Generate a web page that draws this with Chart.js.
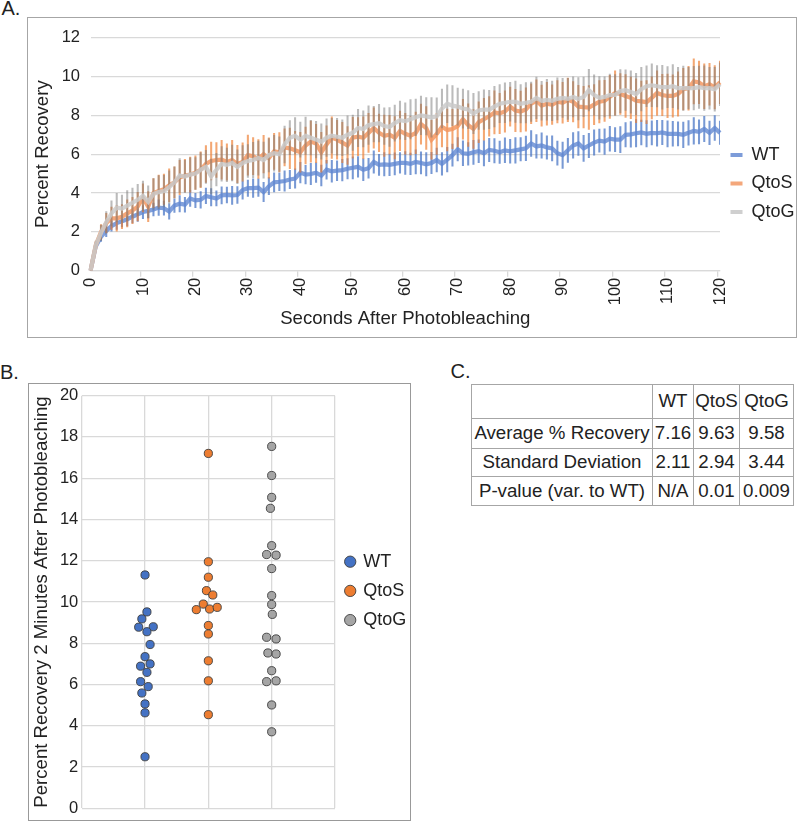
<!DOCTYPE html>
<html>
<head>
<meta charset="utf-8">
<script src="https://cdn.jsdelivr.net/npm/chart.js@4.4.1/dist/chart.umd.min.js"></script>
<style>
html,body{margin:0;padding:0;background:#fff;}
body{width:797px;height:821px;position:relative;overflow:hidden;font-family:"Liberation Sans",Arial,sans-serif;color:#222;}
.lbl{position:absolute;font-size:20px;line-height:20px;white-space:nowrap;}
#boxA{position:absolute;left:27px;top:17px;width:768px;height:319px;border:1px solid #a6a6a6;}
#boxB{position:absolute;left:28px;top:383px;width:381px;height:436px;border:1px solid #999;}
canvas{display:block;}
#tblC{position:absolute;left:471px;top:384px;border-collapse:collapse;table-layout:fixed;width:322px;}
#tblC td{border:1px solid #a6a6a6;padding:0;text-align:center;vertical-align:middle;font-size:18.7px;line-height:1;white-space:nowrap;color:#222;}
</style>
</head>
<body>
<div class="lbl" style="left:1.5px;top:-2px;">A.</div>
<div class="lbl" style="left:0px;top:361.5px;">B.</div>
<div class="lbl" style="left:450.5px;top:361.4px;">C.</div>
<div id="boxA"><canvas id="cA" width="768" height="319" style="width:768px;height:319px;"></canvas></div>
<div id="boxB"><canvas id="cB" width="381" height="436" style="width:381px;height:436px;"></canvas></div>
<table id="tblC">
<colgroup><col style="width:181px"><col style="width:41px"><col style="width:46px"><col style="width:54px"></colgroup>
<tbody id="tblBody"></tbody>
</table>
<script>
// ---------- Panel A data ----------
const seconds = Array.from({length: 121}, (_, i) => i);
const wtMean = [
 0, 1.25, 1.75, 2.05, 2.3, 2.45, 2.55, 2.65, 2.78, 2.9,
 3.02, 3.08, 3.15, 3.25, 3.22, 3.05, 3.35, 3.45, 3.4, 3.72,
 3.62, 3.65, 3.85, 3.78, 3.72, 3.88, 3.9, 3.88, 3.9, 4.15,
 4.25, 4.25, 4.28, 4.05, 4.35, 4.55, 4.58, 4.62, 4.7, 4.75,
 5.05, 4.95, 4.98, 5.05, 4.9, 5.2, 5.12, 5.15, 5.18, 5.25,
 5.3, 5.35, 5.2, 5.28, 5.6, 5.45, 5.48, 5.45, 5.5, 5.55,
 5.55, 5.5, 5.6, 5.55, 5.48, 5.55, 5.7, 5.5, 5.72, 5.95,
 6.25, 6.05, 6.02, 6.1, 6.15, 6.05, 6.22, 6.18, 6.1, 6.2,
 6.15, 6.2, 6.25, 6.3, 6.55, 6.4, 6.45, 6.35, 6.3, 6.05,
 5.95, 6.2, 6.45, 6.55, 6.3, 6.45, 6.6, 6.7, 6.65, 6.8,
 6.75, 6.75, 7.0, 7.02, 7.08, 7.12, 7.05, 7.1, 7.08, 7.12,
 7.05, 7.05, 7.05, 7.0, 7.1, 7.2, 7.15, 7.3, 7.1, 7.35,
 7.1];
const wtErr = [
 0, 0.18, 0.24, 0.3, 0.27, 0.33, 0.3, 0.35, 0.32, 0.36,
 0.34, 0.38, 0.33, 0.4, 0.36, 0.39, 0.35, 0.42, 0.38, 0.41,
 0.37, 0.43, 0.4, 0.45, 0.39, 0.44, 0.41, 0.47, 0.43, 0.46,
 0.42, 0.48, 0.45, 0.5, 0.44, 0.49, 0.46, 0.52, 0.47, 0.5,
 0.53, 0.48, 0.55, 0.5, 0.54, 0.49, 0.56, 0.51, 0.55, 0.52,
 0.57, 0.53, 0.56, 0.51, 0.58, 0.54, 0.6, 0.55, 0.57, 0.53,
 0.59, 0.56, 0.62, 0.57, 0.6, 0.55, 0.61, 0.58, 0.63, 0.57,
 0.6, 0.64, 0.58, 0.62, 0.59, 0.65, 0.6, 0.63, 0.58, 0.64,
 0.61, 0.66, 0.6, 0.63, 0.67, 0.61, 0.65, 0.6, 0.64, 0.62,
 0.68, 0.62, 0.66, 0.61, 0.67, 0.63, 0.65, 0.6, 0.66, 0.64,
 0.62, 0.67, 0.63, 0.66, 0.7, 0.64, 0.68, 0.62, 0.66, 0.63,
 0.67, 0.64, 0.62, 0.66, 0.63, 0.68, 0.62, 0.65, 0.61, 0.64,
 0.6];
const qtosMean = [
 0, 1.3, 2.0, 2.45, 2.7, 2.7, 2.78, 2.95, 3.1, 3.3,
 3.75, 3.3, 4.0, 4.1, 4.2, 4.4, 4.55, 4.8, 4.9, 4.95,
 5.05, 5.2, 5.5, 5.65, 5.7, 5.72, 5.6, 5.7, 5.5, 5.6,
 5.95, 5.9, 5.75, 6.0, 5.8, 6.15, 6.1, 6.35, 6.3, 6.2,
 6.1, 6.45, 6.65, 6.55, 6.1, 6.5, 6.85, 6.75, 6.6, 6.45,
 6.85, 6.9, 6.85, 7.1, 7.35, 7.1, 6.95, 7.0, 6.85, 7.2,
 7.05, 6.95, 7.1, 7.55, 7.35, 6.75, 7.05, 7.4, 7.25, 7.3,
 7.45, 7.8, 7.5, 7.3, 7.65, 7.8, 7.95, 8.15, 8.1, 8.2,
 8.45, 8.25, 8.2, 8.3, 8.6, 8.75, 8.5, 8.6, 8.55, 8.7,
 8.65, 8.8, 8.7, 8.45, 8.42, 8.4, 8.55, 8.7, 8.75, 8.95,
 9.15, 9.1, 9.0, 8.9, 8.75, 8.72, 8.68, 8.9, 9.15, 9.05,
 9.0, 9.0, 9.1, 9.35, 9.4, 9.75, 9.7, 9.5, 9.6, 9.45,
 9.7];
const qtosErr = [
 0, 0.2, 0.38, 0.5, 0.58, 0.66, 0.62, 0.7, 0.68, 0.74,
 0.72, 0.78, 0.75, 0.82, 0.78, 0.85, 0.8, 0.88, 0.84, 0.9,
 0.86, 0.92, 0.95, 0.98, 0.9, 1.0, 0.94, 1.02, 0.96, 0.99,
 1.03, 0.95, 1.0, 0.97, 1.04, 0.93, 1.01, 0.96, 1.05, 0.98,
 1.02, 0.95, 1.06, 0.99, 1.03, 0.96, 1.07, 1.0, 1.04, 0.97,
 1.05, 0.98, 1.08, 1.01, 1.04, 0.97, 1.06, 1.0, 1.09, 1.02,
 1.05, 0.99, 1.07, 1.03, 1.1, 1.0, 1.06, 1.02, 1.08, 1.01,
 1.07, 1.03, 1.1, 1.0, 1.05, 1.08, 1.02, 1.11, 1.04, 1.07,
 1.01, 1.09, 1.05, 1.12, 1.03, 1.08, 1.06, 1.1, 1.02, 1.09,
 1.05, 1.12, 1.04, 1.1, 1.07, 1.13, 1.03, 1.09, 1.06, 1.11,
 1.14, 1.05, 1.1, 1.07, 1.13, 1.04, 1.11, 1.08, 1.15, 1.06,
 1.12, 1.09, 1.14, 1.07, 1.13, 1.16, 1.1, 1.15, 1.08, 1.12,
 1.1];
const qtogMean = [
 0, 1.3, 1.95, 2.5, 2.95, 3.25, 3.2, 3.35, 3.5, 3.65,
 3.85, 3.55, 3.95, 4.05, 4.1, 4.3, 4.55, 4.9, 4.85, 4.95,
 5.0, 5.2, 5.35, 4.85, 5.2, 5.5, 5.45, 5.55, 5.35, 5.55,
 5.65, 5.7, 5.8, 5.7, 5.95, 6.05, 6.0, 6.5, 6.85, 6.95,
 6.75, 6.95, 6.85, 6.75, 6.65, 6.85, 6.95, 6.9, 6.85, 7.0,
 7.1, 7.35, 7.3, 7.5, 7.55, 7.6, 7.45, 7.4, 7.6, 7.75,
 7.7, 7.8, 7.9, 8.0, 7.95, 7.9, 7.95, 8.35, 8.6, 8.5,
 8.45, 8.35, 8.3, 8.1, 8.25, 8.3, 8.3, 8.45, 8.6, 8.65,
 8.7, 8.7, 8.6, 8.65, 8.7, 8.9, 8.75, 8.8, 8.75, 8.85,
 8.9, 8.85, 8.95, 8.85, 8.95, 9.3, 9.05, 8.9, 8.95, 9.05,
 9.05, 9.25, 9.3, 9.2, 9.1, 9.35, 9.5, 9.55, 9.5, 9.45,
 9.45, 9.5, 9.4, 9.4, 9.4, 9.4, 9.45, 9.4, 9.4, 9.35,
 9.6];
const qtogErr = [
 0, 0.22, 0.4, 0.55, 0.65, 0.74, 0.7, 0.78, 0.75, 0.8,
 0.77, 0.82, 0.79, 0.85, 0.81, 0.84, 0.8, 0.87, 0.83, 0.86,
 0.82, 0.88, 0.85, 0.9, 0.84, 0.89, 0.86, 0.92, 0.87, 0.9,
 0.85, 0.91, 0.88, 0.93, 0.86, 0.92, 0.89, 0.95, 0.88, 0.93,
 0.9, 0.96, 0.89, 0.94, 0.91, 0.97, 0.9, 0.95, 0.92, 0.98,
 0.91, 0.96, 0.93, 0.99, 0.92, 0.97, 0.94, 1.0, 0.93, 0.98,
 0.95, 1.01, 0.94, 0.99, 0.96, 1.02, 0.95, 1.0, 0.97, 1.03,
 0.96, 1.01, 0.98, 1.04, 0.97, 1.02, 0.99, 1.05, 0.98, 1.03,
 1.0, 1.06, 0.99, 1.04, 1.01, 1.07, 1.0, 1.05, 1.02, 1.08,
 1.01, 1.06, 1.03, 1.09, 1.02, 1.07, 1.04, 1.1, 1.03, 1.08,
 1.05, 1.11, 1.04, 1.09, 1.06, 1.12, 1.05, 1.1, 1.07, 1.13,
 1.06, 1.11, 1.08, 1.14, 1.07, 1.12, 1.09, 1.15, 1.08, 1.13,
 1.1];
const yTicksA = {min: 0, max: 12, step: 2};

// ---------- Panel B data ----------
const groupNames = ['WT', 'QtoS', 'QtoG'];
const groupPos = [1, 2, 3];
const wtVals  = [11.31, 9.52, 9.18, 8.78, 8.80, 8.56, 7.94, 7.35, 6.89, 7.0, 6.59, 6.14, 5.9, 5.59, 5.06, 4.63, 2.5];
const wtJit   = [0, 0.03, -0.05, -0.1, 0.13, 0.03, 0.08, 0, -0.07, 0.08, 0.03, -0.07, 0.05, -0.05, 0, 0, 0];
const qtosVals = [17.2, 11.95, 11.2, 10.55, 10.34, 9.9, 9.63, 9.66, 9.74, 8.86, 8.45, 7.15, 6.18, 4.54];
const qtosJit  = [0, 0, 0, -0.03, 0.07, -0.08, -0.19, 0.02, 0.14, 0, 0, 0, 0, 0];
const qtogVals = [17.54, 16.13, 15.07, 14.54, 12.73, 12.3, 12.27, 11.62, 10.31, 9.88, 9.4, 8.29, 8.21, 7.53, 7.48, 6.67, 6.14, 6.18, 5.01, 3.71];
const qtogJit  = [0, 0, 0, -0.02, 0, -0.08, 0.07, 0, 0, 0, 0.01, -0.08, 0.07, -0.06, 0.07, 0, -0.08, 0.07, 0, 0];
const yTicksB = {min: 0, max: 20, step: 2};

// ---------- Panel C data ----------
const tableHeader = ['', 'WT', 'QtoS', 'QtoG'];
const rowLabels = ['Average % Recovery', 'Standard Deviation', 'P-value (var. to WT)'];
const avgRow = ['7.16', '9.63', '9.58'];
const sdRow  = ['2.11', '2.94', '3.44'];
const pRow   = ['N/A', '0.01', '0.009'];

// ---------- Build table ----------
(function () {
  const body = document.getElementById('tblBody');
  const heights = [34, 29.5, 28.5, 29];
  const rows = [tableHeader, [rowLabels[0]].concat(avgRow), [rowLabels[1]].concat(sdRow), [rowLabels[2]].concat(pRow)];
  rows.forEach((r, ri) => {
    const tr = document.createElement('tr');
    tr.style.height = heights[ri] + 'px';
    r.forEach(c => { const td = document.createElement('td'); td.textContent = c; tr.appendChild(td); });
    body.appendChild(tr);
  });
})();

const FONT = '"Liberation Sans", Arial, sans-serif';
Chart.defaults.font.family = FONT;
Chart.defaults.color = '#222';
const tickFont = {family: FONT, size: 16.5, lineHeight: 1};
const titleFont = {family: FONT, size: 18.6, lineHeight: 1.2};
const GRID = '#d9d9d9';

// ---------- Chart A ----------
const errBars = (mean, err) => mean.map((v, i) => [v - err[i], v + err[i]]);
const legendColorsA = {WT: '#7d9cd9', QtoS: '#f4a77b', QtoG: '#cfcfcf'};
new Chart(document.getElementById('cA'), {
  type: 'line',
  data: {
    labels: seconds,
    datasets: [
      {type: 'bar', label: 'WT error', data: errBars(wtMean, wtErr), backgroundColor: 'rgba(68,114,196,0.72)', barThickness: 1.4, grouped: false, borderWidth: 0, order: 6},
      {type: 'line', label: 'WT', data: wtMean, borderColor: 'rgba(98,136,210,0.8)', backgroundColor: legendColorsA.WT, borderWidth: 4.2, pointRadius: 0, tension: 0, order: 5},
      {type: 'bar', label: 'QtoS error', data: errBars(qtosMean, qtosErr), backgroundColor: 'rgba(237,125,49,0.68)', barThickness: 1.4, grouped: false, borderWidth: 0, order: 4},
      {type: 'line', label: 'QtoS', data: qtosMean, borderColor: 'rgba(243,152,98,0.85)', backgroundColor: legendColorsA.QtoS, borderWidth: 4.2, pointRadius: 0, tension: 0, order: 3},
      {type: 'bar', label: 'QtoG error', data: errBars(qtogMean, qtogErr), backgroundColor: 'rgba(120,120,120,0.5)', barThickness: 1.4, grouped: false, borderWidth: 0, order: 2},
      {type: 'line', label: 'QtoG', data: qtogMean, borderColor: 'rgba(202,202,202,0.85)', backgroundColor: legendColorsA.QtoG, borderWidth: 4.2, pointRadius: 0, tension: 0, order: 1}
    ]
  },
  options: {
    responsive: false, animation: false, events: [],
    layout: {padding: {top: 19.7, left: 0, right: 0, bottom: 0}},
    plugins: {
      tooltip: {enabled: false},
      legend: {
        position: 'right', align: 'start', maxWidth: 76,
        title: {display: true, text: ' ', font: {size: 10, lineHeight: 1.2}, padding: {top: 85.8, bottom: 0}},
        labels: {
          boxWidth: 12, boxHeight: 4, padding: 10.5, color: '#222',
          font: {family: FONT, size: 18},
          filter: item => !item.text.includes('error'),
          sort: (a, b) => a.datasetIndex - b.datasetIndex,
          generateLabels: chart => Chart.defaults.plugins.legend.labels.generateLabels(chart).map(l => Object.assign(l, {lineWidth: 0}))
        }
      }
    },
    scales: {
      x: {
        type: 'category', offset: false,
        ticks: {autoSkip: false, minRotation: 90, maxRotation: 90, padding: 1, font: tickFont, color: '#222',
          callback: (v, i) => (seconds[i] % 10 === 0 ? String(seconds[i]) : '')},
        grid: {drawOnChartArea: false, drawTicks: true, tickLength: 6, lineWidth: 1.3,
          color: c => (seconds[c.index] % 10 === 0 ? GRID : 'rgba(0,0,0,0)')},
        border: {color: GRID, width: 1.3},
        title: {display: true, text: 'Seconds After Photobleaching', font: titleFont, color: '#222', padding: {top: 0, bottom: 6.5}},
        afterFit: s => { s.height = 66.3; }
      },
      y: {
        min: yTicksA.min, max: yTicksA.max,
        ticks: {stepSize: yTicksA.step, padding: 10.5, font: tickFont, color: '#222'},
        grid: {color: GRID, lineWidth: 1.3, drawTicks: false},
        border: {display: false},
        title: {display: true, text: 'Percent Recovery', font: titleFont, color: '#222', padding: {top: 4.1, bottom: 0}},
        afterFit: s => { s.width = 62.5; }
      }
    }
  }
});

// ---------- Chart B ----------
const swarm = (vals, jit, pos) => vals.map((v, i) => ({x: pos + jit[i], y: v}));
const ptBorder = '#3d3d3d';
new Chart(document.getElementById('cB'), {
  type: 'scatter',
  data: {
    datasets: [
      {label: groupNames[0], data: swarm(wtVals, wtJit, groupPos[0]), backgroundColor: '#4472C4', borderColor: ptBorder, borderWidth: 0.9, pointRadius: 4.1, pointStyle: 'circle'},
      {label: groupNames[1], data: swarm(qtosVals, qtosJit, groupPos[1]), backgroundColor: '#ED7D31', borderColor: ptBorder, borderWidth: 0.9, pointRadius: 4.1, pointStyle: 'circle'},
      {label: groupNames[2], data: swarm(qtogVals, qtogJit, groupPos[2]), backgroundColor: '#A5A5A5', borderColor: ptBorder, borderWidth: 0.9, pointRadius: 4.1, pointStyle: 'circle'}
    ]
  },
  options: {
    responsive: false, animation: false, events: [],
    layout: {padding: {top: 8.7, left: 0, right: 0, bottom: 8.3}},
    plugins: {
      tooltip: {enabled: false},
      legend: {
        position: 'right', align: 'start', maxWidth: 75,
        title: {display: true, text: ' ', font: {size: 10, lineHeight: 1.2}, padding: {top: 136.8, bottom: 0}},
        labels: {usePointStyle: true, boxWidth: 8, boxHeight: 8, padding: 11.2, color: '#222', font: {family: FONT, size: 18}}
      }
    },
    scales: {
      x: {
        type: 'linear', min: 0, max: 4,
        ticks: {display: false, stepSize: 1},
        grid: {color: GRID, lineWidth: 1.3, drawTicks: false},
        border: {display: false}
      },
      y: {
        min: yTicksB.min, max: yTicksB.max,
        ticks: {stepSize: yTicksB.step, padding: 3.4, font: tickFont, color: '#222'},
        grid: {color: GRID, lineWidth: 1.3, drawTicks: false},
        border: {display: false},
        title: {display: true, text: 'Percent Recovery 2 Minutes After Photobleaching', font: titleFont, color: '#222', padding: {top: 1.5, bottom: 0}},
        afterFit: s => { s.width = 52.7; }
      }
    }
  }
});
</script>
</body>
</html>
